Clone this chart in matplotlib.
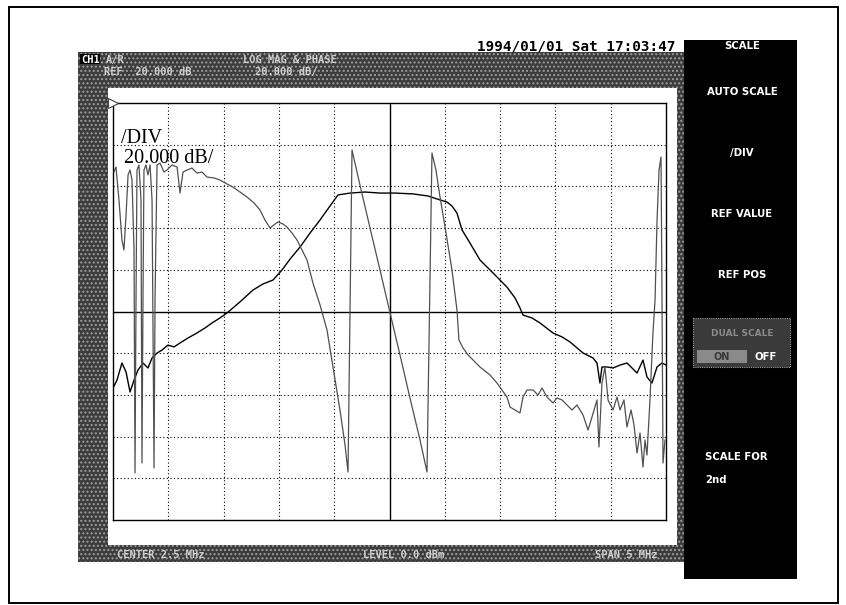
import matplotlib
matplotlib.use("Agg")
import matplotlib.pyplot as plt
from matplotlib.patches import Rectangle

# ---------------- data (read from the screen capture) ----------------
# frequency axis: CENTER 2.5 MHz, SPAN 5 MHz  -> 0 .. 5 MHz
mag_freq = [0.000, 0.036, 0.081, 0.118, 0.154, 0.190, 0.226, 0.271, 0.316, 0.353,
            0.398, 0.443, 0.497, 0.552, 0.606, 0.678, 0.759, 0.832, 0.895, 0.967,
            1.031, 1.148, 1.266, 1.356, 1.447, 1.528, 1.609, 1.691, 1.781, 1.872,
            1.962, 2.034, 2.143, 2.278, 2.414, 2.550, 2.712, 2.848, 2.957, 3.020,
            3.065, 3.110, 3.156, 3.228, 3.318, 3.436, 3.562, 3.635, 3.680, 3.707,
            3.788, 3.861, 3.978, 4.060, 4.132, 4.250, 4.340, 4.376, 4.403, 4.421,
            4.467, 4.521, 4.584, 4.647, 4.693, 4.738, 4.792, 4.828, 4.873, 4.919,
            4.964, 5.000]
mag_db = [-36.7, -32.9, -24.7, -29.0, -38.6, -32.9, -28.1, -24.7, -27.1, -22.3,
          -19.9, -18.5, -16.1, -17.0, -15.1, -12.7, -10.3, -7.9, -5.5, -3.1,
          -0.7, 4.6, 10.3, 13.2, 15.1, 19.9, 25.7, 30.9, 37.6, 43.9,
          50.6, 55.9, 56.8, 57.3, 56.8, 56.8, 56.4, 55.4, 53.5, 52.5,
          50.6, 47.2, 39.1, 32.8, 24.7, 18.5, 11.7, 6.5, 1.7, -1.7,
          -3.1, -5.5, -10.3, -12.2, -14.6, -19.9, -22.3, -24.7, -34.3, -26.6,
          -26.6, -27.1, -25.7, -24.7, -27.1, -29.5, -23.3, -31.4, -34.3, -26.6,
          -24.7, -25.7]

ph_freq = [0.009, 0.027, 0.054, 0.081, 0.099, 0.118, 0.136, 0.154, 0.172, 0.190,
           0.199, 0.208, 0.217, 0.235, 0.253, 0.262, 0.271, 0.280, 0.298, 0.316,
           0.335, 0.353, 0.371, 0.380, 0.398, 0.425, 0.461, 0.488, 0.533, 0.579,
           0.606, 0.633, 0.669, 0.714, 0.759, 0.805, 0.850, 0.913, 0.967, 1.031,
           1.085, 1.148, 1.212, 1.275, 1.329, 1.374, 1.420, 1.465, 1.492, 1.537,
           1.573, 1.618, 1.664, 1.709, 1.754, 1.808, 1.872, 1.935, 1.989, 2.052,
           2.098, 2.125, 2.161, 2.233, 2.324, 2.414, 2.505, 2.595, 2.685, 2.776,
           2.839, 2.884, 2.920, 2.957, 3.002, 3.065, 3.110, 3.128, 3.165, 3.210,
           3.318, 3.409, 3.472, 3.562, 3.590, 3.635, 3.680, 3.707, 3.743, 3.797,
           3.843, 3.879, 3.924, 3.978, 4.014, 4.060, 4.105, 4.150, 4.195, 4.250,
           4.295, 4.331, 4.376, 4.394, 4.421, 4.448, 4.476, 4.521, 4.557, 4.584,
           4.620, 4.647, 4.684, 4.711, 4.738, 4.765, 4.792, 4.810, 4.828, 4.855,
           4.882, 4.901, 4.919, 4.937, 4.955, 4.964, 4.973, 4.991]
ph_deg = [150.5, 155.9, 120.3, 77.1, 66.4, 104.1, 147.3, 152.7, 141.9, 66.4,
          -174.3, 12.4, 152.7, 158.1, 120.3, -163.5, 12.4, 152.7, 158.1, 147.3,
          158.1, 120.3, -168.9, 12.4, 158.1, 160.2, 150.5, 152.7, 158.1, 155.9,
          127.9, 150.5, 152.7, 154.8, 149.4, 150.5, 145.1, 144.1, 141.9, 137.6,
          134.3, 128.9, 123.5, 117.1, 109.5, 98.7, 90.1, 94.4, 96.6, 94.4,
          91.2, 84.7, 77.1, 66.4, 55.6, 30.7, 7.0, -20.0, -59.9, -106.3,
          -144.1, -173.2, 174.3, 136.5, 90.1, 44.8, -1.6, -46.9, -93.3, -138.7,
          -173.2, 171.0, 152.7, 123.5, 91.2, 44.8, 1.6, -30.8, -39.4, -46.9,
          -59.9, -68.5, -77.2, -92.3, -103.1, -106.3, -109.5, -92.3, -84.7, -84.7,
          -90.1, -82.6, -92.3, -98.7, -93.3, -95.5, -100.9, -106.3, -100.9, -111.7,
          -127.9, -113.9, -95.5, -146.2, -77.2, -59.9, -95.5, -106.3, -92.3, -106.3,
          -95.5, -124.6, -106.3, -122.5, -152.7, -131.1, -167.8, -138.7, -154.9, -95.5,
          -23.2, 12.4, 98.7, 152.7, 166.7, 12.4, -163.5, -138.7]

# screen scale settings
f_start, f_stop, f_div = 0.0, 5.0, 0.5
db_ref, db_div = 0.0, 20.0
deg_ref, deg_div = 0.0, 45.0
n_div = 10

date_text = "1994/01/01 Sat 17:03:47"
header_row1 = ["A/R", "LOG MAG & PHASE"]
header_row2 = ["REF  20.000 dB", "20.000 dB/"]
footer = ["CENTER 2.5 MHz", "LEVEL 0.0 dBm", "SPAN 5 MHz"]
softkeys = ["AUTO SCALE", "/DIV", "REF VALUE", "REF POS"]

# ---------------- figure ----------------
W, H = 846, 605
plt.rcParams["hatch.linewidth"] = 1.0
fig = plt.figure(figsize=(W / 100, H / 100), dpi=100)
bg = fig.add_axes([0, 0, 1, 1])
bg.set_xlim(0, W)
bg.set_ylim(H, 0)
bg.axis("off")

# page frame
bg.add_patch(Rectangle((9, 7), 829, 596, fill=False, ec="black", lw=1.4))
# screen stippled frame
bg.add_patch(Rectangle((78, 52), 606, 510, fc="#3c3c3c", ec="#9c9c9c", lw=0,
                       hatch="...."))
bg.add_patch(Rectangle((108, 88), 569, 457, fc="white", ec="none"))
# softkey panel
bg.add_patch(Rectangle((684, 40), 113, 539, fc="black", ec="none"))

mono = "DejaVu Sans Mono"
bg.text(477, 50, date_text, family=mono, fontweight="bold", fontsize=10.3,
        color="black", va="baseline", ha="left")

# header rows
bg.add_patch(Rectangle((80, 54), 20, 10, fc="black", ec="none"))
bg.text(81, 63, "CH1", family=mono, fontweight="bold", fontsize=7.5, color="white",
        va="baseline")
hdr = dict(family=mono, fontweight="bold", fontsize=7.5, color="#d0d0d0",
           va="baseline")
bg.text(106, 63, header_row1[0], **hdr)
bg.text(243, 63, header_row1[1], **hdr)
bg.text(104, 75, header_row2[0], **hdr)
bg.text(255, 75, header_row2[1], **hdr)
# footer
bg.text(117, 558, footer[0], **hdr)
bg.text(363, 558, footer[1], **hdr)
bg.text(595, 558, footer[2], **hdr)

# softkeys
sk = dict(family="DejaVu Sans", fontweight="bold", fontsize=7.3, color="white",
          ha="center", va="center")
bg.text(742, 46, "SCALE", **sk)
for lab, yy in zip(softkeys, [92, 153, 214, 275]):
    bg.text(742, yy, lab, **sk)
bg.add_patch(Rectangle((693, 318), 97, 49, fc="#3a3a3a", ec="#9a9a9a", lw=0.8,
                       ls=(0, (1, 1))))
bg.text(742, 333, "DUAL SCALE", family="DejaVu Sans", fontweight="bold",
        fontsize=6.5, color="#8a8a8a", ha="center", va="center")
bg.add_patch(Rectangle((697, 350), 50, 13, fc="#8a8a8a", ec="none"))
bg.text(722, 357, "ON", family="DejaVu Sans", fontweight="bold", fontsize=7,
        color="#3a3a3a", ha="center", va="center")
bg.text(766, 357, "OFF", **sk)
bg.text(705, 457, "SCALE FOR", family="DejaVu Sans", fontweight="bold",
        fontsize=7.3, color="white", ha="left", va="center")
bg.text(705, 480, "2nd", family="DejaVu Sans", fontweight="bold",
        fontsize=7.3, color="white", ha="left", va="center")

# ---------------- measurement grid ----------------
gx0, gx1, gy0, gy1 = 113, 666, 103, 520
ax = fig.add_axes([gx0 / W, 1 - gy1 / H, (gx1 - gx0) / W, (gy1 - gy0) / H])
ax.set_facecolor("none")
ax.set_xlim(f_start, f_stop)
ylo, yhi = db_ref - db_div * n_div / 2, db_ref + db_div * n_div / 2
ax.set_ylim(ylo, yhi)
ax.set_xticks([])
ax.set_yticks([])
for s in ax.spines.values():
    s.set_color("black")
    s.set_linewidth(1.0)

for i in range(1, n_div):
    xv = f_start + i * f_div
    yv = ylo + i * db_div
    if i == n_div // 2:
        ax.axvline(xv, color="black", lw=1.0)
        ax.axhline(yv, color="black", lw=1.0)
    else:
        ax.axvline(xv, color="black", lw=0.8, ls=(0, (1, 2.2)))
        ax.axhline(yv, color="black", lw=0.8, ls=(0, (1, 2.2)))

ax.plot(mag_freq, mag_db, color="black", lw=1.0)

ax2 = ax.twinx()
ax2.set_ylim(deg_ref - deg_div * n_div / 2, deg_ref + deg_div * n_div / 2)
ax2.axis("off")
ax2.plot(ph_freq, ph_deg, color="#505050", lw=0.9)

# reference marker and scale annotation
ax.plot([f_start], [yhi], marker=">", ms=7, mfc="white", mec="#444444",
        mew=0.8, clip_on=False, zorder=5)
ser = "Liberation Serif"
ax.text(0.014, 0.905, "/DIV", transform=ax.transAxes, family=ser, fontsize=14.5,
        color="black", va="baseline", ha="left")
ax.text(0.02, 0.855, "20.000 dB/", transform=ax.transAxes, family=ser,
        fontsize=14.5, color="black", va="baseline", ha="left")

fig.savefig("out.png", dpi=100)
